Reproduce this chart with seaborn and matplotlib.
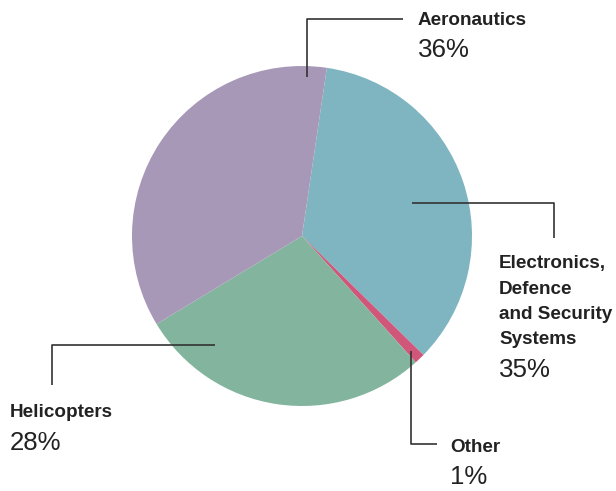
import matplotlib
matplotlib.use("Agg")
import matplotlib.pyplot as plt
import seaborn as sns

sns.set_theme(style="white")
plt.rcParams['font.family'] = ['Liberation Sans', 'DejaVu Sans']

# Data
segments = ["Electronics,\nDefence\nand Security\nSystems", "Other", "Helicopters", "Aeronautics"]
shares = [35, 1, 28, 36]
pct_labels = ["35%", "1%", "28%", "36%"]
colors = ["#7fb5c1", "#d0567a", "#83b49e", "#a898b8"]

W, H = 616, 491
fig = plt.figure(figsize=(W / 100, H / 100), dpi=100)

cx, cy, r = 302, 236, 170
ax = fig.add_axes([(cx - r) / W, (H - cy - r) / H, 2 * r / W, 2 * r / H])
ax.pie(shares, colors=colors, startangle=81.6, counterclock=False, radius=1,
       wedgeprops=dict(linewidth=0))
ax.set_xlim(-1, 1)
ax.set_ylim(-1, 1)
ax.set_aspect("equal")
ax.axis("off")

# Overlay in pixel coordinates for leader lines and labels
ov = fig.add_axes([0, 0, 1, 1], facecolor="none")
ov.set_xlim(0, W)
ov.set_ylim(H, 0)
ov.axis("off")

lc = "#333333"
lw = 1.2
leaders = {
    "Aeronautics": [(307, 77), (307, 19), (403, 19)],
    "Electronics": [(412, 203), (554, 203), (554, 238)],
    "Helicopters": [(215, 345), (52, 345), (52, 385)],
    "Other": [(411, 351), (411, 444), (437, 444)],
}
for pts in leaders.values():
    xs, ys = zip(*pts)
    ov.plot(xs, ys, color=lc, lw=lw, solid_capstyle="butt")

tc = "#222222"
lab_fs = 13.6
pct_fs = 18.6
line_step = 25.5
# (segment index, x, baseline of first label line, baseline of pct)
placements = {
    3: (418, 25, 57),
    0: (499, 268, 377),
    2: (10, 417, 450),
    1: (450, 452, 484),
}
for i, (x, ylab, ypct) in placements.items():
    for k, line in enumerate(segments[i].split("\n")):
        ov.text(x, ylab + k * line_step, line, fontsize=lab_fs, fontweight="bold",
                color=tc, ha="left", va="baseline")
    ov.text(x, ypct, pct_labels[i], fontsize=pct_fs, color=tc, ha="left", va="baseline")

fig.savefig("out.png", dpi=100)
